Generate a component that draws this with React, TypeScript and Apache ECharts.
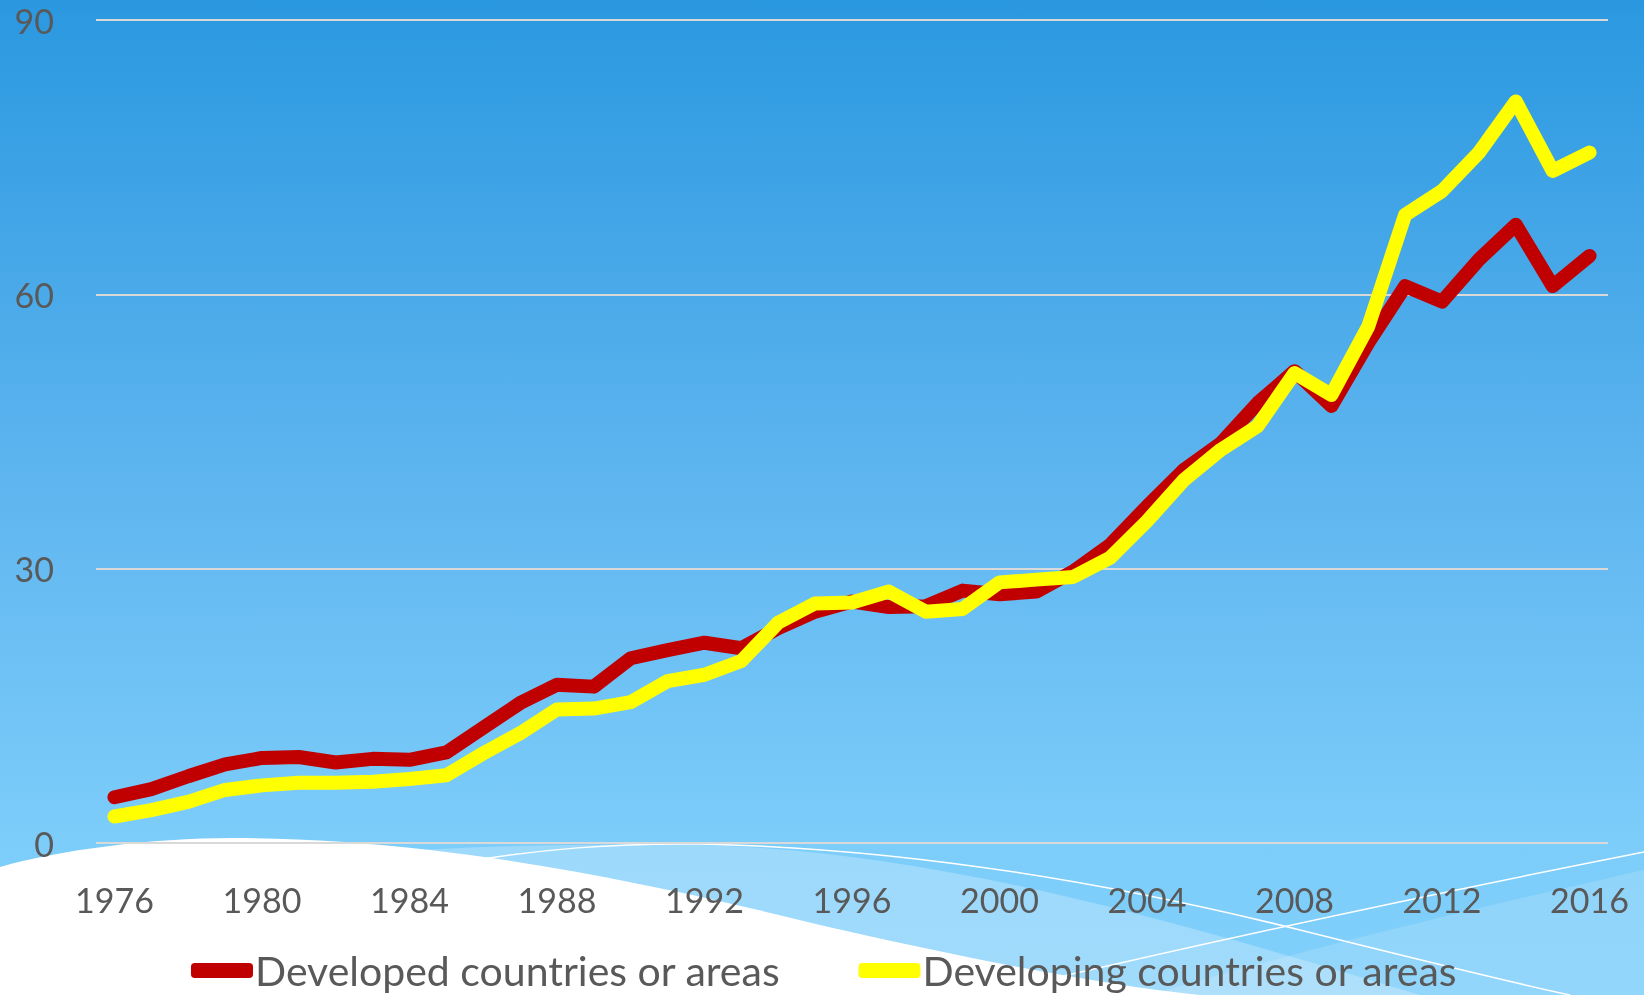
import React, { useEffect, useRef } from "react";
import * as echarts from "echarts";

const years: string[] = [];
for (let y = 1976; y <= 2016; y++) years.push(String(y));

const developed = [
  5.0, 5.9, 7.3, 8.6, 9.3, 9.4, 8.8, 9.2, 9.1, 9.9,
  12.6, 15.3, 17.3, 17.1, 20.2, 21.1, 21.9, 21.3, 23.5, 25.3,
  26.4, 25.8, 25.9, 27.6, 27.2, 27.5, 29.7, 32.6, 36.8, 40.8,
  43.7, 48.1, 51.6, 47.8, 54.7, 60.9, 59.2, 63.8, 67.6, 60.9, 64.2,
];

const developing = [
  2.9, 3.6, 4.5, 5.8, 6.3, 6.6, 6.6, 6.7, 7.0, 7.4,
  9.8, 12.0, 14.6, 14.7, 15.4, 17.7, 18.4, 19.9, 24.1, 26.2,
  26.3, 27.5, 25.3, 25.6, 28.5, 28.8, 29.1, 31.2, 35.2, 39.7,
  43.0, 45.6, 51.4, 49.0, 56.5, 68.7, 71.3, 75.5, 81.1, 73.5, 75.5,
];

const seriesNames = ["Developed countries or areas", "Developing countries or areas"];
const seriesColors = ["#C00000", "#FFFF00"];

const FONT = "Lato, 'Open Sans', sans-serif";

function registerShapes() {
  const shapes: Record<string, string> = {
    bgWhite:
      "M0,867 C60,850 150,838 233,838 C300,838 360,842 430,850 C560,865 700,895 820,925 C950,955 1100,985 1200,995 L0,995 Z",
    bgBandB:
      "M380,852 C480,846 600,843 700,845 C900,850 1100,900 1320,965 L1420,995 L0,995 Z",
    bgBandC: "M1150,995 C1250,965 1400,925 1644,870 L1644,995 Z",
    bgLineA:
      "M440,866 C540,848 620,843 700,844 C900,848 1100,880 1300,930 C1420,960 1500,980 1570,995",
    bgLineD: "M982,995 Q1300,920 1644,852",
  };
  Object.keys(shapes).forEach((k) => {
    echarts.graphic.registerShape(k, echarts.graphic.extendPath(shapes[k], {}));
  });
}

export default function App() {
  const ref = useRef<HTMLDivElement>(null);
  useEffect(() => {
    if (!ref.current) return;
    registerShapes();
    const chart = echarts.init(ref.current, null, { renderer: "svg" });
    chart.setOption({
      animation: false,
      graphic: [
        {
          type: "rect",
          z: -20,
          silent: true,
          shape: { x: 0, y: 0, width: 1644, height: 995 },
          style: {
            fill: {
              type: "linear",
              x: 0,
              y: 0,
              x2: 0,
              y2: 1,
              colorStops: [
                { offset: 0, color: "#2A98E0" },
                { offset: 0.45, color: "#5BB3EE" },
                { offset: 0.85, color: "#7DCDFA" },
                { offset: 1, color: "#80CFFB" },
              ],
            },
          },
        },
        { type: "bgBandB", z: -19, silent: true, x: 0, y: 0, style: { fill: "rgba(255,255,255,0.25)" } },
        { type: "bgBandC", z: -19, silent: true, x: 0, y: 0, style: { fill: "rgba(255,255,255,0.15)" } },
        { type: "bgWhite", z: -18, silent: true, x: 0, y: 0, style: { fill: "#FFFFFF" } },
        { type: "bgLineA", z: -17, silent: true, x: 0, y: 0, style: { fill: "none", stroke: "#FFFFFF", lineWidth: 1.5 } },
        { type: "bgLineD", z: -17, silent: true, x: 0, y: 0, style: { fill: "none", stroke: "#FFFFFF", lineWidth: 1.5 } },
      ],
      grid: { left: 96, right: 36, top: 20, bottom: 152, containLabel: false },
      xAxis: {
        type: "category",
        data: years,
        boundaryGap: true,
        axisLine: { show: false },
        axisTick: { show: false },
        axisLabel: {
          interval: 3,
          fontSize: 34,
          color: "#595959",
          fontFamily: FONT,
          margin: 39,
        },
        splitLine: { show: false },
      },
      yAxis: {
        type: "value",
        min: 0,
        max: 90,
        interval: 30,
        axisLine: { show: false },
        axisTick: { show: false },
        axisLabel: {
          fontSize: 34,
          color: "#595959",
          fontFamily: FONT,
          margin: 42,
        },
        splitLine: { show: true, lineStyle: { color: "#D9D9D9", width: 2 } },
      },
      legend: {
        data: seriesNames,
        left: 186,
        top: 945,
        icon: "roundRect",
        itemWidth: 62,
        itemHeight: 15,
        itemGap: 78,
        itemStyle: { borderWidth: 0 },
        textStyle: {
          fontSize: 41,
          lineHeight: 41,
          color: "#595959",
          fontFamily: FONT,
          padding: [0, 0, 0, -3],
        },
      },
      series: [
        {
          name: seriesNames[0],
          type: "line",
          data: developed,
          symbol: "none",
          color: seriesColors[0],
          itemStyle: { color: seriesColors[0] },
          lineStyle: { color: seriesColors[0], width: 14, cap: "round", join: "round" },
        },
        {
          name: seriesNames[1],
          type: "line",
          data: developing,
          symbol: "none",
          color: seriesColors[1],
          itemStyle: { color: seriesColors[1] },
          lineStyle: { color: seriesColors[1], width: 14, cap: "round", join: "round" },
        },
      ],
    });
    return () => chart.dispose();
  }, []);
  return (
    <div
      ref={ref}
      style={{ position: "fixed", left: 0, top: 0, width: 1644, height: 995 }}
    />
  );
}
